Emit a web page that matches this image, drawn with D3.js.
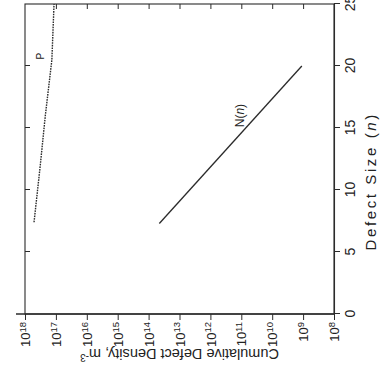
<!DOCTYPE html>
<html>
<head>
<meta charset="utf-8">
<script src="https://cdn.jsdelivr.net/npm/d3@7"></script>
<style>
  html, body { margin: 0; padding: 0; background: #ffffff; }
  svg { display: block; font-family: "Liberation Sans", Arial, sans-serif; }
</style>
</head>
<body>
<svg id="chart" width="382" height="390"></svg>
<script>
// ---- data ----
const sizeTicks = [0, 5, 10, 15, 20, 25];
const densityExponents = [8, 9, 10, 11, 12, 13, 14, 15, 16, 17, 18];

// P curve (dotted)
const pSize    = [7.4, 12, 16, 20.5, 25];
const pDensity = [5.1e17, 3.2e17, 2.2e17, 1.35e17, 1.15e17];

// N(n) line (solid)
const nSize    = [7.3, 20];
const nDensity = [4.5e13, 1.1e9];

// labels
const pLabel = { size: 20.8, density: 3.2e17, text: "P" };
const nLabel = { size: 16.0, density: 1.1e11 };

// ---- layout (original, un-rotated chart) ----
const W = 310, H = 309;
const svg = d3.select("#chart");
const ink = "#2b2b2b";

// whole chart is turned 90deg counter-clockwise
const g = svg.append("g").attr("transform", "translate(25,314) rotate(-90)");

const x = d3.scaleLinear().domain([0, 25]).range([0, W]);
const y = d3.scaleLog().domain([1e8, 1e18]).range([H, 0]);

// frame
g.append("rect").attr("x", 0).attr("y", 0).attr("width", W).attr("height", H)
  .attr("fill", "none").attr("stroke", ink).attr("stroke-width", 1.1);
// y-axis line slightly extended
g.append("line").attr("x1", 0).attr("x2", 0).attr("y1", -9).attr("y2", H)
  .attr("stroke", ink).attr("stroke-width", 1.3);

// bottom axis (Defect size)
const xAxis = g.append("g").attr("transform", `translate(0,${H})`)
  .call(d3.axisBottom(x).tickValues(sizeTicks).tickSize(6).tickPadding(5).tickFormat(d3.format("d")));
xAxis.select(".domain").attr("stroke", ink).attr("stroke-width", 1.1);
xAxis.selectAll(".tick line").attr("stroke", ink);
xAxis.selectAll(".tick text").attr("fill", "#222").style("font-size", "14px");

// top mirror ticks (inward)
const xTop = g.append("g")
  .call(d3.axisTop(x).tickValues(sizeTicks.slice(1, -1)).tickSize(-5).tickFormat(""));
xTop.select(".domain").remove();
xTop.selectAll(".tick line").attr("stroke", ink);

// left axis (density, log)
const yVals = densityExponents.map(e => Math.pow(10, e));
const yAxis = g.append("g")
  .call(d3.axisLeft(y).tickValues(yVals).tickSize(6).tickPadding(3).tickFormat(""));
yAxis.select(".domain").remove();
yAxis.selectAll(".tick line").attr("stroke", ink);
yAxis.selectAll(".tick").each(function(d) {
  const t = d3.select(this).append("text")
    .attr("x", -8).attr("dy", "0.36em")
    .attr("text-anchor", "end").attr("fill", "#222")
    .style("font-size", "13px");
  t.append("tspan").text("10");
  t.append("tspan").attr("dy", "-0.45em").style("font-size", "9.5px")
    .text(Math.round(Math.log10(d)));
});

// right mirror ticks (inward)
const yRight = g.append("g").attr("transform", `translate(${W},0)`)
  .call(d3.axisRight(y).tickValues(yVals.slice(1, -1)).tickSize(-5).tickFormat(""));
yRight.select(".domain").remove();
yRight.selectAll(".tick line").attr("stroke", ink);

// axis titles
const xt = g.append("text")
  .attr("x", x(10.7)).attr("y", H + 42)
  .attr("text-anchor", "middle").attr("fill", "#222")
  .style("font-size", "15px").style("letter-spacing", "2.6px");
xt.append("tspan").text("Defect Size (");
xt.append("tspan").style("font-style", "italic").text("n");
xt.append("tspan").text(")");

const yt = g.append("text")
  .attr("transform", `translate(-35,${H / 2}) rotate(-90)`)
  .attr("text-anchor", "middle").attr("fill", "#222")
  .style("font-size", "14.5px");
yt.append("tspan").text("Cumulative Defect Density, m");
yt.append("tspan").attr("dy", "-0.45em").style("font-size", "10px").text("-3");

// lines
const line = d3.line().x(d => x(d[0])).y(d => y(d[1]));

g.append("path")
  .datum(pSize.map((s, i) => [s, pDensity[i]]))
  .attr("d", line).attr("fill", "none").attr("stroke", ink)
  .attr("stroke-width", 1.4).attr("stroke-dasharray", "1.6,1");

g.append("path")
  .datum(nSize.map((s, i) => [s, nDensity[i]]))
  .attr("d", line).attr("fill", "none").attr("stroke", ink)
  .attr("stroke-width", 1.3);

// labels
g.append("text").attr("x", x(pLabel.size)).attr("y", y(pLabel.density))
  .attr("text-anchor", "middle").attr("dy", "0.35em").attr("fill", "#222")
  .style("font-size", "10px").text(pLabel.text);

const nl = g.append("text").attr("x", x(nLabel.size)).attr("y", y(nLabel.density))
  .attr("text-anchor", "middle").attr("dy", "0.35em").attr("fill", "#222")
  .style("font-size", "12px");
nl.append("tspan").text("N(");
nl.append("tspan").style("font-style", "italic").text("n");
nl.append("tspan").text(")");
</script>
</body>
</html>
